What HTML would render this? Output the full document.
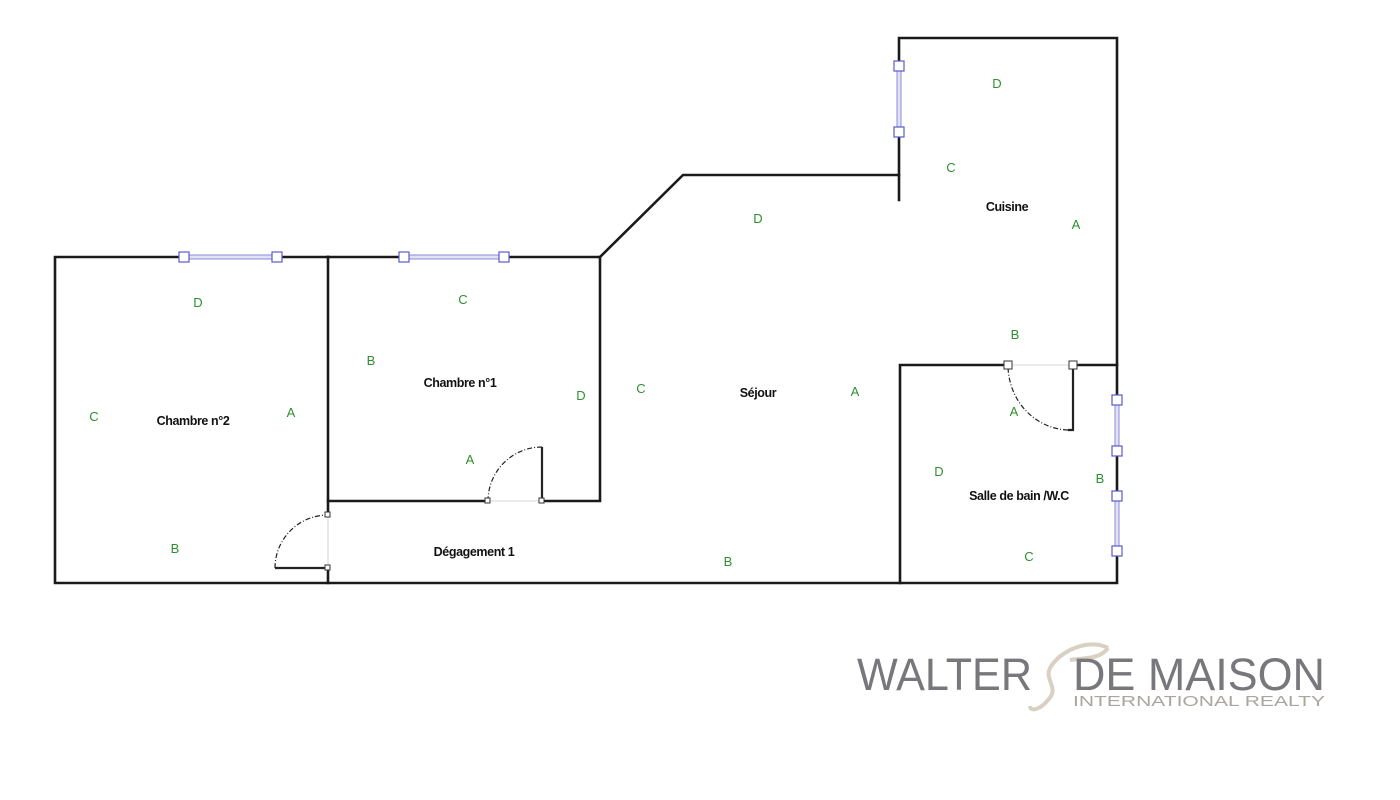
<!DOCTYPE html>
<html><head><meta charset="utf-8"><style>
html,body{margin:0;padding:0;background:#fff;}
svg{display:block}
.l{fill:#2f8f2f;font-family:"Liberation Sans",sans-serif;font-size:13px;text-anchor:middle}
.n{fill:#111;font-family:"Liberation Sans",sans-serif;font-size:12.5px;font-weight:bold;text-anchor:middle;letter-spacing:-0.4px}
</style></head><body>
<svg width="1400" height="800" viewBox="0 0 1400 800">
<g stroke="#1a1a1a" stroke-width="2.6" fill="none" stroke-linecap="square">
<path d="M55 257 H328 M55 257 V583 H1117 V38 H899 V200"/>
<path d="M328 257 H600 L683 175 H899"/>
<path d="M328 257 V515 M328 568 V583"/>
<path d="M600 257 V501 H542 M488 501 H328"/>
<path d="M900 583 V365 H1008 M1073 365 H1117"/>
</g>
<g stroke="#222" fill="none">
<path d="M542 501 V447" stroke-width="2.2"/>
<path d="M542 447 A54 54 0 0 0 488 501" stroke-dasharray="5,2,1,2" stroke-width="1.2"/>
<path d="M328 568 H275" stroke-width="2.2"/>
<path d="M275 568 A53 53 0 0 1 328 515" stroke-dasharray="5,2,1,2" stroke-width="1.2"/>
<path d="M1073 365 V430 H1068" stroke-width="2.2"/>
<path d="M1068 430 A62 65 0 0 1 1008 365" stroke-dasharray="5,2,1,2" stroke-width="1.2"/>
<path d="M488 501 H542 M1008 365 H1073 M328 515 V568" stroke="#ccc" stroke-width="0.8"/>
</g>
<g fill="#fff" stroke="#333" stroke-width="1">
<rect x="485" y="498" width="5" height="5"/><rect x="539" y="498" width="5" height="5"/>
<rect x="325" y="512" width="5" height="5"/><rect x="325" y="565" width="5" height="5"/>
<rect x="1004" y="361" width="8" height="8"/><rect x="1069" y="361" width="8" height="8"/>
</g>
<g fill="#e2e2f6" stroke="#8a8ad8" stroke-width="1">
<rect x="184" y="255" width="93" height="4"/>
<rect x="404" y="255" width="100" height="4"/>
<rect x="897" y="66" width="4" height="66"/>
<rect x="1115" y="400" width="4" height="51"/>
<rect x="1115" y="496" width="4" height="55"/>
</g>
<g fill="#fff" stroke="#5a5ac8" stroke-width="1.2">
<rect x="179" y="252" width="10" height="10"/><rect x="272" y="252" width="10" height="10"/>
<rect x="399" y="252" width="10" height="10"/><rect x="499" y="252" width="10" height="10"/>
<rect x="894" y="61" width="10" height="10"/><rect x="894" y="127" width="10" height="10"/>
<rect x="1112" y="395" width="10" height="10"/><rect x="1112" y="446" width="10" height="10"/>
<rect x="1112" y="491" width="10" height="10"/><rect x="1112" y="546" width="10" height="10"/>
</g>
<g class="l">
<text x="198" y="307">D</text><text x="94" y="421">C</text><text x="291" y="417">A</text><text x="175" y="553">B</text>
<text x="463" y="304">C</text><text x="371" y="365">B</text><text x="581" y="400">D</text><text x="470" y="464">A</text>
<text x="758" y="223">D</text><text x="641" y="393">C</text><text x="855" y="396">A</text><text x="728" y="566">B</text>
<text x="997" y="88">D</text><text x="951" y="172">C</text><text x="1076" y="229">A</text><text x="1015" y="339">B</text>
<text x="1014" y="416">A</text><text x="939" y="476">D</text><text x="1100" y="483">B</text><text x="1029" y="561">C</text>
</g>
<g class="n">
<text x="193" y="425">Chambre n°2</text>
<text x="460" y="387">Chambre n°1</text>
<text x="758" y="397">Séjour</text>
<text x="1007" y="211">Cuisine</text>
<text x="1019" y="500">Salle de bain /W.C</text>
<text x="474" y="556">Dégagement 1</text>
</g>
<path d="M1108 648 C1090 638 1060 650 1050 668 C1044 680 1060 688 1048 700 C1040 710 1030 712 1030 706 M1108 648 C1100 660 1080 658 1070 660" stroke="#d8d0c2" stroke-width="4" fill="none"/>
<text x="857" y="690" font-family="Liberation Sans,sans-serif" font-size="45" fill="#77777c" textLength="175" lengthAdjust="spacingAndGlyphs">WALTER</text>
<text x="1073" y="690" font-family="Liberation Sans,sans-serif" font-size="45" fill="#77777c" textLength="252" lengthAdjust="spacingAndGlyphs">DE MAISON</text>
<text x="1073" y="706" font-family="Liberation Sans,sans-serif" font-size="15" fill="#aaa69f" textLength="252" lengthAdjust="spacingAndGlyphs">INTERNATIONAL REALTY</text>
</svg>
</body></html>
